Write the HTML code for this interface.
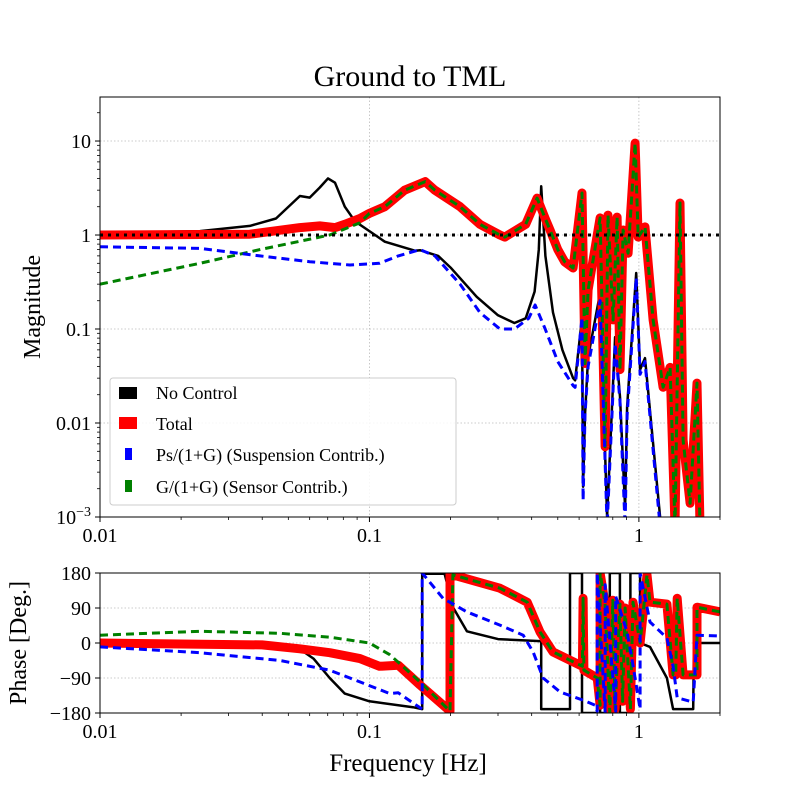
<!DOCTYPE html>
<html><head><meta charset="utf-8"><style>
body{margin:0;background:#fff}
svg text{font-family:"Liberation Serif","DejaVu Serif",serif;fill:#000}
</style></head><body>
<svg id="c" width="800" height="800" viewBox="0 0 800 800" xmlns="http://www.w3.org/2000/svg">
<defs>
<clipPath id="cm"><rect x="100" y="97" width="620" height="420"/></clipPath>
<clipPath id="cp"><rect x="100" y="573" width="620" height="140"/></clipPath>
</defs>
<text x="410" y="86" font-size="30" text-anchor="middle">Ground to TML</text>
<g id="gm"></g>
<g id="gp"></g>
<g id="sm" clip-path="url(#cm)"></g>
<g id="sp" clip-path="url(#cp)"></g>
<rect x="100" y="97" width="620" height="420" fill="none" stroke="#000" stroke-width="1"/>
<rect x="100" y="573" width="620" height="140" fill="none" stroke="#000" stroke-width="1"/>
<g id="tk"></g>
<text transform="translate(40,307) rotate(-90)" font-size="24" text-anchor="middle">Magnitude</text>
<text transform="translate(26,643) rotate(-90)" font-size="24" text-anchor="middle">Phase [Deg.]</text>
<text x="408" y="771" font-size="25" text-anchor="middle">Frequency [Hz]</text>
<g>
<rect x="110" y="378" width="346" height="127" fill="#fff" fill-opacity="0.85" stroke="#ccc" rx="3"/>
<rect x="119" y="387" width="18" height="12" fill="#000"/>
<text x="156" y="399" font-size="18">No Control</text>
<rect x="119" y="417" width="18" height="12" fill="#f00"/>
<text x="156" y="430" font-size="18">Total</text>
<rect x="125" y="448" width="7" height="12" fill="#00f"/>
<text x="156" y="461" font-size="18">Ps/(1+G) (Suspension Contrib.)</text>
<rect x="125" y="480" width="7" height="12" fill="#008000"/>
<text x="156" y="493" font-size="18">G/(1+G) (Sensor Contrib.)</text>
</g>
</svg>
<script>
// ---- data ----
const ncF=[0.01,0.0235,0.036,0.045,0.0552,0.060,0.0654,0.0702,0.0745,0.081,0.0884,0.1,0.114,0.148,0.154,0.18,0.2,0.25,0.3,0.345,0.38,0.41,0.425,0.434,0.45,0.48,0.52,0.570,0.580,0.615,0.621,0.631,0.648,0.718,0.762,0.816,0.851,0.889,0.904,0.977,1.010,1.054,1.199,1.3];
const ncM=[1.05,1.1,1.25,1.5,2.6,2.5,3.2,4.0,3.6,2.0,1.4,1.1,0.85,0.68,0.69,0.6,0.45,0.22,0.14,0.116,0.13,0.25,0.7,3.3,0.6,0.15,0.06,0.03,0.0285,0.13,0.0021,0.0122,0.05,0.242,0.001,0.082,0.019,0.00125,0.0148,0.394,0.037,0.049,0.001,0.0008];
const totF=[0.01,0.036,0.0552,0.0654,0.0745,0.081,0.0922,0.1,0.114,0.135,0.161,0.175,0.217,0.257,0.305,0.318,0.38,0.419,0.449,0.47,0.5,0.53,0.570,0.615,0.631,0.648,0.718,0.749,0.768,0.802,0.830,0.851,0.874,0.912,0.968,0.994,1.054,1.129,1.230,1.306,1.362,1.421,1.459,1.549,1.643,1.686];
const totM=[1.0,1.02,1.2,1.25,1.2,1.3,1.5,1.7,2.0,3.0,3.7,3.0,2.0,1.3,1.0,0.95,1.3,2.47,1.5,1.1,0.7,0.52,0.446,2.8,0.043,0.26,1.52,0.0056,1.63,0.125,1.55,0.037,1.13,0.64,9.5,0.95,1.22,0.125,0.024,0.039,0.0008,2.19,0.0066,0.0014,0.0266,0.0008];
const gF=[0.01,0.0235,0.0392,0.0712,0.0922,0.1,0.114];
const gM=[0.3,0.5,0.7,1.0,1.35,1.7,2.0];
const blF=[0.01,0.0235,0.0392,0.060,0.0846,0.109,0.128,0.154,0.175,0.217,0.257,0.305,0.345,0.39,0.412,0.449,0.5,0.570,0.580,0.615,0.621,0.631,0.648,0.718,0.762,0.816,0.851,0.889,0.904,0.977,1.010,1.054,1.199,1.3];
const blM=[0.75,0.72,0.6,0.52,0.48,0.5,0.6,0.7,0.6,0.3,0.15,0.1,0.1,0.13,0.18,0.1,0.045,0.025,0.024,0.134,0.0015,0.0122,0.04,0.2,0.0008,0.07,0.017,0.0008,0.012,0.35,0.033,0.045,0.0008,0.0008];
// phase
const pnF=[0.01,0.04,0.055,0.062,0.0712,0.081,0.1,0.145,0.157,0.157,0.19,0.205,0.23,0.3,0.43,0.434,0.434,0.546,0.555,0.555,0.615,0.615,0.70,0.70,0.718,0.718,0.78,0.78,0.85,0.85,0.93,0.93,1.0,1.01,1.01,1.1,1.27,1.34,1.59,1.60,1.64,2.0];
const pnP=[-5,-5,-15,-40,-90,-130,-150,-165,-170,178,178,90,30,10,5,5,-170,-170,-170,180,180,-180,-180,180,180,-180,-180,180,180,-180,-180,180,180,180,0,-10,-90,-170,-170,0,0,0];
const pbF=[0.01,0.0235,0.0466,0.0712,0.0922,0.119,0.128,0.145,0.157,0.157,0.1875,0.230,0.305,0.372,0.405,0.441,0.510,0.621,0.688,0.70,0.70,0.75,0.75,0.82,0.82,0.904,0.951,1.01,1.01,1.10,1.27,1.34,1.387,1.59,1.643,2.0];
const pbP=[-10,-25,-45,-70,-100,-130,-128,-154,-170,180,115,80,46,20,-23,-90,-126,-147,-160,-175,180,-180,150,-175,120,28,-57,-170,180,54,13,-60,-141,-152,20,18];
const ptF=[0.01,0.04,0.0552,0.0712,0.0922,0.109,0.128,0.154,0.199,0.199,0.204,0.305,0.385,0.43,0.48,0.605,0.617,0.621,0.625,0.70,0.718,0.718,0.749,0.78,0.80,0.816,0.851,0.87,0.889,0.93,0.951,1.01,1.072,1.10,1.27,1.34,1.37,1.387,1.459,1.643,1.643,2.0];
const ptP=[0,-5,-15,-25,-40,-60,-57,-108,-175,180,175,141,105,28,-23,-57,-60,115,-70,-90,-160,180,100,-180,110,-170,100,-150,90,-170,105,0,175,105,100,-82,-82,115,-82,-82,92,80];
const pgF=[0.01,0.0235,0.0466,0.0712,0.1,0.119,0.154,0.199];
const pgP=[20,30,25,15,0,-30,-100,-175];
const magTickV=[10,1,0.1,0.01];
const magTickL=["10","1","0.1","0.01"];
const phTickV=[180,90,0,-90,-180];
const phTickL=["180","90","0","\u221290","\u2212180"];
const xTickV=[0.01,0.1,1];
const xTickL=["0.01","0.1","1"];
// ---- scales ----
const X0=100,X1=720,lf0=-2,lf1=Math.log10(2);
const sx=f=>X0+(Math.log10(f)-lf0)/(lf1-lf0)*(X1-X0);
const MY0=517,MY1=97,lm0=-3,lm1=Math.log10(29.4);
const sy=m=>MY0-(Math.log10(m)-lm0)/(lm1-lm0)*(MY0-MY1);
const py=p=>643-p*(70/180);
const NS="http://www.w3.org/2000/svg";
function mk(tag,attrs,parent){const e=document.createElementNS(NS,tag);for(const k in attrs)e.setAttribute(k,attrs[k]);parent.appendChild(e);return e;}
function line(F,V,yf,par,st,name){
  const d=F.map((f,i)=>(i?"L":"M")+sx(f).toFixed(1)+","+yf(V[i]).toFixed(1)).join("");
  const p=mk("path",Object.assign({d:d,fill:"none","stroke-linejoin":"round"},st),par);
  
  
}
const gm=document.getElementById('gm'),gp=document.getElementById('gp'),tk=document.getElementById('tk');
const sm=document.getElementById('sm'),sp=document.getElementById('sp');
xTickV.forEach((v,i)=>{
  const x=sx(v);
  const g1=mk("line",{x1:x,x2:x,y1:97,y2:517,stroke:"#bbb","stroke-width":0.8,"stroke-dasharray":"1.5,2"},gm);
  
  
  const g2=mk("line",{x1:x,x2:x,y1:573,y2:713,stroke:"#bbb","stroke-width":0.8,"stroke-dasharray":"1.5,2"},gp);
  
  
  [517,713].forEach(y=>{const t=mk("text",{x:x,y:y+25,"font-size":20,"text-anchor":"middle"},tk);t.textContent=xTickL[i];
  
  
  mk("line",{x1:x,x2:x,y1:y,y2:y+5,stroke:"#000"},tk);});
});
for(let e=-2;e<=0;e++)for(let k=2;k<=9;k++){const f=k*Math.pow(10,e);if(f>2)break;const x=sx(f);
  [517,713].forEach(y=>mk("line",{x1:x,x2:x,y1:y,y2:y+3,stroke:"#000","stroke-width":0.8},tk));}
magTickV.forEach((v,i)=>{const y=sy(v);
  const g=mk("line",{x1:100,x2:720,y1:y,y2:y,stroke:"#bbb","stroke-width":0.8,"stroke-dasharray":"1.5,2"},gm);
  
  
  mk("line",{x1:95,x2:100,y1:y,y2:y,stroke:"#000"},tk);
  const t=mk("text",{x:91,y:y+7,"font-size":20,"text-anchor":"end"},tk);t.textContent=magTickL[i];
  
  
});
{const y=sy(0.001);mk("line",{x1:95,x2:100,y1:y,y2:y,stroke:"#000"},tk);
 const t=mk("text",{x:91,y:y+7,"font-size":20,"text-anchor":"end"},tk);t.innerHTML='10<tspan dy="-8" font-size="14">\u22123</tspan>';
 
 }
for(let e=-3;e<=1;e++)for(let k=2;k<=9;k++){const m=k*Math.pow(10,e);if(m>29)break;const y=sy(m);mk("line",{x1:97,x2:100,y1:y,y2:y,stroke:"#000","stroke-width":0.8},tk);}
phTickV.forEach((v,i)=>{const y=py(v);
  const g=mk("line",{x1:100,x2:720,y1:y,y2:y,stroke:"#bbb","stroke-width":0.8,"stroke-dasharray":"1.5,2"},gp);
  
  
  mk("line",{x1:95,x2:100,y1:y,y2:y,stroke:"#000"},tk);
  const t=mk("text",{x:91,y:y+7,"font-size":20,"text-anchor":"end"},tk);t.textContent=phTickL[i];
  
  
});
line(ncF,ncM,sy,sm,{stroke:"#000","stroke-width":2.5},"no-control-magnitude");
line(totF,totM,sy,sm,{stroke:"#f00","stroke-width":9},"total-magnitude");
line(gF.concat(totF.filter(f=>f>0.114)),gM.concat(totM.filter((m,i)=>totF[i]>0.114)),sy,sm,{stroke:"#008000","stroke-width":3,"stroke-dasharray":"8,5"},"sensor-magnitude");
line(blF,blM,sy,sm,{stroke:"#00f","stroke-width":3,"stroke-dasharray":"8,5"},"suspension-magnitude");
{const y=sy(1);const u=mk("line",{x1:100,x2:720,y1:y,y2:y,stroke:"#000","stroke-width":3,"stroke-dasharray":"3,5"},sm);
 
 }
line(pnF,pnP,py,sp,{stroke:"#000","stroke-width":2.5},"no-control-phase");
line(ptF,ptP,py,sp,{stroke:"#f00","stroke-width":9},"total-phase");
line(pgF.concat(ptF.filter(f=>f>0.199)),pgP.concat(ptP.filter((p,i)=>ptF[i]>0.199)),py,sp,{stroke:"#008000","stroke-width":3,"stroke-dasharray":"8,5"},"sensor-phase");
line(pbF,pbP,py,sp,{stroke:"#00f","stroke-width":3,"stroke-dasharray":"8,5"},"suspension-phase");
</script>
</body></html>
